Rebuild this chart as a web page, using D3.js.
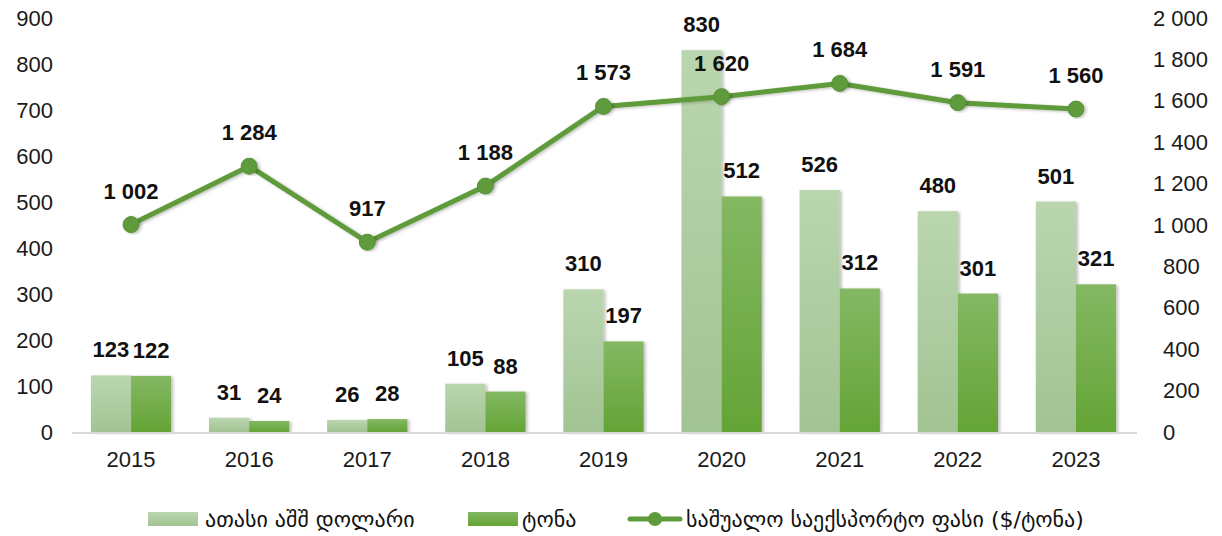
<!DOCTYPE html>
<html>
<head>
<meta charset="utf-8">
<script src="https://cdn.jsdelivr.net/npm/d3@7"></script>
<style>
  body { margin: 0; background: #fff; }
  svg { font-family: "Liberation Sans", Arial, sans-serif; }
  .legend text { font-family: "DejaVu Sans", "Noto Sans", sans-serif; }
</style>
</head>
<body>
<div id="chart-area"></div>
<script>
const years = ['2015', '2016', '2017', '2018', '2019', '2020', '2021', '2022', '2023'];
const valueThousandUsd = [123, 31, 26, 105, 310, 830, 526, 480, 501];
const volumeTons = [122, 24, 28, 88, 197, 512, 312, 301, 321];
const avgPrice = [1002, 1284, 917, 1188, 1573, 1620, 1684, 1591, 1560];
const leftTicks = [0, 100, 200, 300, 400, 500, 600, 700, 800, 900];
const rightTicks = [0, 200, 400, 600, 800, 1000, 1200, 1400, 1600, 1800, 2000];
const legendLabels = ['ათასი აშშ დოლარი', 'ტონა', 'საშუალო საექსპორტო ფასი ($/ტონა)'];

const W = 1222, H = 536;
const plot = { left: 72, right: 1135, top: 18, bottom: 432 };
const FS = 22;

const fmt = v => d3.format(',')(v).replace(/,/g, ' ');

const svg = d3.select('#chart-area')
    .append('svg')
    .attr('width', W)
    .attr('height', H);

const defs = svg.append('defs');
const gLight = defs.append('linearGradient').attr('id', 'gLight')
    .attr('x1', 0).attr('y1', 0).attr('x2', 0).attr('y2', 1);
gLight.append('stop').attr('offset', '0%').attr('stop-color', '#bad6af');
gLight.append('stop').attr('offset', '100%').attr('stop-color', '#a2c393');
const gDark = defs.append('linearGradient').attr('id', 'gDark')
    .attr('x1', 0).attr('y1', 0).attr('x2', 0).attr('y2', 1);
gDark.append('stop').attr('offset', '0%').attr('stop-color', '#84b863');
gDark.append('stop').attr('offset', '100%').attr('stop-color', '#64a436');
const shadow = defs.append('filter').attr('id', 'shadow')
    .attr('x', '-20%').attr('y', '-5%').attr('width', '150%').attr('height', '115%');
shadow.append('feDropShadow').attr('dx', 2).attr('dy', 1).attr('stdDeviation', 1.5)
    .attr('flood-color', '#000').attr('flood-opacity', 0.25);

const x = d3.scaleBand()
    .domain(years)
    .range([plot.left, plot.right])
    .paddingInner(0.32)
    .paddingOuter(0.16);

const xSub = d3.scaleBand()
    .domain(['value', 'volume'])
    .range([0, x.bandwidth()]);

const yLeft = d3.scaleLinear().domain([0, 900]).range([plot.bottom, plot.top]);
const yRight = d3.scaleLinear().domain([0, 2000]).range([plot.bottom, plot.top]);

// axes (labels only)
const leftAxis = svg.append('g')
    .attr('transform', `translate(53,0)`)
    .call(d3.axisLeft(yLeft).tickValues(leftTicks).tickSize(0).tickPadding(0));
leftAxis.select('.domain').remove();
leftAxis.selectAll('text').attr('font-size', FS).attr('fill', '#1a1a1a')
    .attr('font-family', '"Liberation Sans", Arial, sans-serif');

const rightAxis = svg.append('g')
    .attr('transform', `translate(1153,0)`)
    .call(d3.axisRight(yRight).tickValues(rightTicks).tickSize(0).tickPadding(0).tickFormat(fmt));
rightAxis.select('.domain').remove();
rightAxis.selectAll('text').attr('font-size', FS).attr('fill', '#1a1a1a')
    .attr('font-family', '"Liberation Sans", Arial, sans-serif')
    .attr('x', d => d < 1000 ? 10 : 0);

const xAxis = svg.append('g')
    .attr('transform', `translate(0,${plot.bottom})`)
    .call(d3.axisBottom(x).tickSize(0).tickPadding(19));
xAxis.select('.domain').remove();
xAxis.selectAll('text').attr('font-size', FS).attr('fill', '#1a1a1a')
    .attr('font-family', '"Liberation Sans", Arial, sans-serif');

// bars
const bars = svg.append('g');
bars.selectAll('.bar-value')
    .data(years)
    .enter()
    .append('rect')
    .attr('class', 'bar-value')
    .attr('x', (d, i) => x(d) + xSub('value'))
    .attr('y', (d, i) => yLeft(valueThousandUsd[i]))
    .attr('width', xSub.bandwidth())
    .attr('height', (d, i) => plot.bottom - yLeft(valueThousandUsd[i]))
    .attr('fill', 'url(#gLight)')
    .attr('filter', 'url(#shadow)');

bars.selectAll('.bar-volume')
    .data(years)
    .enter()
    .append('rect')
    .attr('class', 'bar-volume')
    .attr('x', (d, i) => x(d) + xSub('volume'))
    .attr('y', (d, i) => yLeft(volumeTons[i]))
    .attr('width', xSub.bandwidth())
    .attr('height', (d, i) => plot.bottom - yLeft(volumeTons[i]))
    .attr('fill', 'url(#gDark)')
    .attr('filter', 'url(#shadow)');

// baseline
svg.append('line')
    .attr('x1', plot.left).attr('x2', plot.right + 2)
    .attr('y1', plot.bottom + 1).attr('y2', plot.bottom + 1)
    .attr('stroke', '#d9d9d9').attr('stroke-width', 2);

// line series
const cx = d => x(d) + x.bandwidth() / 2;
const line = d3.line()
    .x((d, i) => cx(years[i]))
    .y(d => yRight(d));

svg.append('path')
    .datum(avgPrice)
    .attr('d', line)
    .attr('fill', 'none')
    .attr('stroke', '#5e9b3a')
    .attr('stroke-width', 5)
    .attr('stroke-linejoin', 'round')
    .attr('filter', 'url(#shadow)');

svg.selectAll('.dot')
    .data(avgPrice)
    .enter()
    .append('circle')
    .attr('class', 'dot')
    .attr('cx', (d, i) => cx(years[i]))
    .attr('cy', d => yRight(d))
    .attr('r', 8)
    .attr('fill', '#5f9b3b')
    .attr('stroke', '#55903a')
    .attr('stroke-width', 1)
    .attr('filter', 'url(#shadow)');

// data labels
const labels = svg.append('g')
    .attr('font-size', FS)
    .attr('font-weight', 'bold')
    .attr('fill', '#111')
    .attr('text-anchor', 'middle');

labels.selectAll('.lbl-value')
    .data(valueThousandUsd)
    .enter()
    .append('text')
    .attr('x', (d, i) => x(years[i]) + xSub('value') + xSub.bandwidth() / 2)
    .attr('y', d => yLeft(d) - 18)
    .text(fmt);

labels.selectAll('.lbl-volume')
    .data(volumeTons)
    .enter()
    .append('text')
    .attr('x', (d, i) => x(years[i]) + xSub('volume') + xSub.bandwidth() / 2)
    .attr('y', d => yLeft(d) - 18)
    .text(fmt);

labels.selectAll('.lbl-price')
    .data(avgPrice)
    .enter()
    .append('text')
    .attr('x', (d, i) => cx(years[i]))
    .attr('y', d => yRight(d) - 26)
    .text(fmt);

// legend
const legend = svg.append('g').attr('class', 'legend');
const ly = 519;
legend.append('rect').attr('x', 148).attr('y', ly - 7).attr('width', 50).attr('height', 14)
    .attr('fill', 'url(#gLight)');
legend.append('text').attr('x', 205).attr('y', ly + 8).attr('font-size', 22).attr('fill', '#111')
    .text(legendLabels[0]);
legend.append('rect').attr('x', 468).attr('y', ly - 7).attr('width', 50).attr('height', 14)
    .attr('fill', 'url(#gDark)');
legend.append('text').attr('x', 522).attr('y', ly + 8).attr('font-size', 22).attr('fill', '#111')
    .text(legendLabels[1]);
legend.append('line').attr('x1', 630).attr('x2', 680).attr('y1', ly).attr('y2', ly)
    .attr('stroke', '#5e9b3a').attr('stroke-width', 5).attr('stroke-linecap', 'round');
legend.append('circle').attr('cx', 655).attr('cy', ly).attr('r', 7).attr('fill', '#5f9b3b');
legend.append('text').attr('x', 686).attr('y', ly + 8).attr('font-size', 22).attr('fill', '#111')
    .text(legendLabels[2]);
</script>
</body>
</html>
